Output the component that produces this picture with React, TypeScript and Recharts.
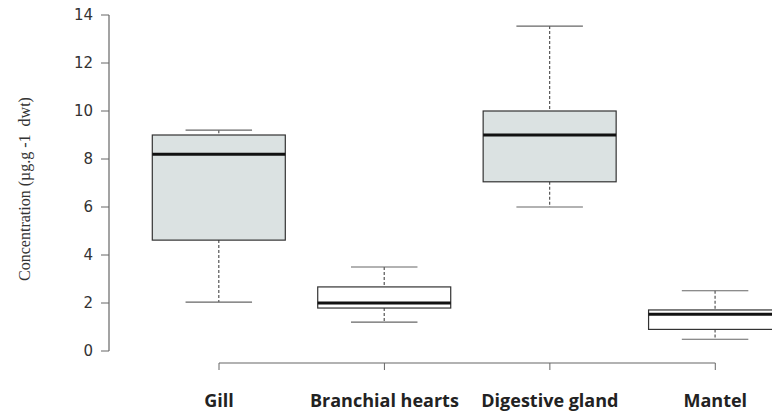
import React from 'react';
import { ComposedChart, Bar, XAxis, YAxis, ReferenceLine } from 'recharts';

// five-number summaries
const categories = ['Gill', 'Branchial hearts', 'Digestive gland', 'Mantel'];
const whiskerLow = [2.04, 1.2, 6.0, 0.49];
const quartile1 = [4.62, 1.79, 7.05, 0.9];
const medians = [8.2, 2.0, 9.0, 1.53];
const quartile3 = [9.0, 2.67, 10.0, 1.71];
const whiskerHigh = [9.2, 3.5, 13.54, 2.51];
const yTicks = [0, 2, 4, 6, 8, 10, 12, 14];

// which boxes are shaded
const shaded: Record<string, boolean> = { 'Gill': true, 'Digestive gland': true };

const rows = categories.map((name, i) => ({
    name,
    idx: i,
    lo: whiskerLow[i],
    q1: quartile1[i],
    med: medians[i],
    q3: quartile3[i],
    hi: whiskerHigh[i],
    range: [whiskerLow[i], whiskerHigh[i]],
}));

const X_MIN = -0.665;

const BoxShape = (props: any) => {
    const { x, y, width, height, payload } = props;
    const top = Math.min(y, y + height);
    const h = Math.abs(height);
    const { lo, hi, q1, q3, med, name } = payload;
    const k = h / (hi - lo);
    const py = (v: number) => top + (hi - v) * k;
    const cx = x + width / 2;
    const cap = width / 4;
    return (
        <g>
            <line x1={cx} x2={cx} y1={py(hi)} y2={py(q3)} stroke="#555" strokeWidth={1.2} strokeDasharray="3 2" />
            <line x1={cx} x2={cx} y1={py(q1)} y2={py(lo)} stroke="#555" strokeWidth={1.2} strokeDasharray="3 2" />
            <line x1={cx - cap} x2={cx + cap} y1={py(hi)} y2={py(hi)} stroke="#666" strokeWidth={1.2} />
            <line x1={cx - cap} x2={cx + cap} y1={py(lo)} y2={py(lo)} stroke="#666" strokeWidth={1.2} />
            <rect x={x} y={py(q3)} width={width} height={py(q1) - py(q3)}
                fill={shaded[name] ? '#dbe2e2' : '#ffffff'} stroke="#333" strokeWidth={1.2} />
            <line x1={x} x2={x + width} y1={py(med)} y2={py(med)} stroke="#111" strokeWidth={3} />
        </g>
    );
};

export default function App() {
    return (
        <div style={{ position: 'absolute', left: 0, top: 0, width: 772, height: 413, overflow: 'hidden', background: '#fff' }}>
            <ComposedChart width={800} height={413} data={rows} margin={{ top: 15, right: 2, bottom: 0, left: 0 }}>
                <XAxis
                    type="number"
                    dataKey="idx"
                    domain={[X_MIN, 3.5]}
                    ticks={[0, 1, 2, 3]}
                    allowDataOverflow
                    tickFormatter={(v: number) => categories[v] ?? ''}
                    axisLine={false}
                    tickLine={{ stroke: '#666' }}
                    tickSize={7}
                    tickMargin={24}
                    height={50}
                    tick={{ fill: '#222', fontSize: 18, fontWeight: 700, fontFamily: '"Open Sans", sans-serif' }}
                />
                <YAxis
                    type="number"
                    domain={[-0.5, 14]}
                    ticks={yTicks}
                    allowDataOverflow
                    width={109}
                    axisLine={false}
                    tickLine={{ stroke: '#666' }}
                    tickSize={8}
                    tickMargin={8}
                    tick={{ fill: '#333', fontSize: 15, fontFamily: '"DejaVu Sans", sans-serif' }}
                    label={{
                        value: 'Concentration (µg.g -1 \u00a0dwt)',
                        angle: -90,
                        position: 'insideLeft',
                        offset: 24,
                        style: { fill: '#333', fontSize: 16, fontFamily: '"Liberation Serif", serif', textAnchor: 'middle' },
                    }}
                />
                <ReferenceLine segment={[{ x: X_MIN, y: 0 }, { x: X_MIN, y: 14 }]} stroke="#666" strokeWidth={1.2} ifOverflow="visible" />
                <ReferenceLine segment={[{ x: 0, y: -0.5 }, { x: 3, y: -0.5 }]} stroke="#666" strokeWidth={1.2} ifOverflow="visible" />
                <Bar dataKey="range" barSize={133} shape={<BoxShape />} isAnimationActive={false} />
            </ComposedChart>
        </div>
    );
}
